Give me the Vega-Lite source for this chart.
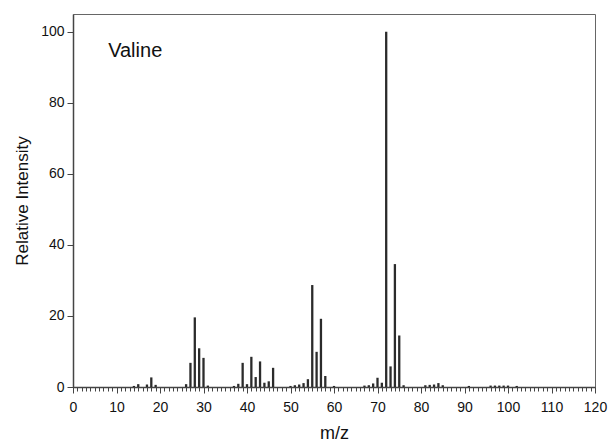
{
  "$schema": "https://vega.github.io/schema/vega-lite/v6.json",
  "width": 522,
  "height": 373,
  "autosize": "none",
  "padding": {"left": 73, "top": 14, "right": 13, "bottom": 55},
  "background": "white",
  "config": {
    "view": {"stroke": "#666", "strokeWidth": 1},
    "font": "Liberation Sans"
  },
  "resolve": {"axis": {"x": "independent"}},
  "layer": [
    {
      "data": {"values": [
        {"mz": 14, "intensity": 0.3}, {"mz": 15, "intensity": 0.8}, {"mz": 17, "intensity": 0.7}, {"mz": 18, "intensity": 2.7}, {"mz": 19, "intensity": 0.6},
        {"mz": 26, "intensity": 0.8}, {"mz": 27, "intensity": 6.8}, {"mz": 28, "intensity": 19.6}, {"mz": 29, "intensity": 10.9}, {"mz": 30, "intensity": 8.2}, {"mz": 31, "intensity": 0.4},
        {"mz": 37, "intensity": 0.3}, {"mz": 38, "intensity": 0.9}, {"mz": 39, "intensity": 6.8}, {"mz": 40, "intensity": 0.8}, {"mz": 41, "intensity": 8.5}, {"mz": 42, "intensity": 2.8}, {"mz": 43, "intensity": 7.2}, {"mz": 44, "intensity": 1.2}, {"mz": 45, "intensity": 1.6}, {"mz": 46, "intensity": 5.4},
        {"mz": 50, "intensity": 0.3}, {"mz": 51, "intensity": 0.5}, {"mz": 52, "intensity": 0.7}, {"mz": 53, "intensity": 1.1}, {"mz": 54, "intensity": 2.2}, {"mz": 55, "intensity": 28.7}, {"mz": 56, "intensity": 9.9}, {"mz": 57, "intensity": 19.2}, {"mz": 58, "intensity": 3.1}, {"mz": 60, "intensity": 0.3},
        {"mz": 67, "intensity": 0.4}, {"mz": 68, "intensity": 0.5}, {"mz": 69, "intensity": 1.0}, {"mz": 70, "intensity": 2.6}, {"mz": 71, "intensity": 1.2}, {"mz": 72, "intensity": 100}, {"mz": 73, "intensity": 5.8}, {"mz": 74, "intensity": 34.6}, {"mz": 75, "intensity": 14.5}, {"mz": 76, "intensity": 0.5},
        {"mz": 81, "intensity": 0.5}, {"mz": 82, "intensity": 0.6}, {"mz": 83, "intensity": 0.7}, {"mz": 84, "intensity": 1.1}, {"mz": 85, "intensity": 0.5},
        {"mz": 91, "intensity": 0.3}, {"mz": 96, "intensity": 0.4}, {"mz": 97, "intensity": 0.4}, {"mz": 98, "intensity": 0.4}, {"mz": 99, "intensity": 0.4}, {"mz": 100, "intensity": 0.4}, {"mz": 102, "intensity": 0.3}
      ]},
      "mark": {"type": "rule", "strokeWidth": 2.3, "color": "#2b2b2b"},
      "encoding": {
        "x": {
          "field": "mz", "type": "quantitative",
          "scale": {"domain": [0, 120], "nice": false, "zero": false},
          "axis": {
            "orient": "bottom",
            "title": "m/z",
            "titleFontSize": 18, "titleFontWeight": "normal", "titleColor": "#111", "titlePadding": 10,
            "values": [0, 10, 20, 30, 40, 50, 60, 70, 80, 90, 100, 110, 120],
            "labelFontSize": 14, "labelColor": "#111", "labelPadding": 7, "labelOverlap": false, "labelFlush": false,
            "tickSize": 6, "tickColor": "#444", "tickWidth": 1,
            "domainColor": "#444", "domainWidth": 1.5,
            "grid": false
          }
        },
        "y": {
          "field": "intensity", "type": "quantitative",
          "scale": {"domain": [0, 105], "nice": false},
          "axis": {
            "title": "Relative Intensity",
            "titleFontSize": 17, "titleFontWeight": "normal", "titleColor": "#111", "titlePadding": 9,
            "values": [0, 20, 40, 60, 80, 100],
            "labelFontSize": 14, "labelColor": "#111", "labelPadding": 3,
            "tickSize": 6, "tickColor": "#444",
            "domainColor": "#444", "domainWidth": 1.5,
            "grid": false
          }
        },
        "y2": {"datum": 0}
      }
    },
    {
      "data": {"values": [{"label": "Valine"}]},
      "mark": {"type": "text", "fontSize": 20, "color": "#111", "align": "center", "baseline": "middle"},
      "encoding": {
        "x": {
          "datum": 14.3, "type": "quantitative",
          "axis": {
            "orient": "bottom",
            "title": null,
            "values": [0,1,2,3,4,5,6,7,8,9,10,11,12,13,14,15,16,17,18,19,20,21,22,23,24,25,26,27,28,29,30,31,32,33,34,35,36,37,38,39,40,41,42,43,44,45,46,47,48,49,50,51,52,53,54,55,56,57,58,59,60,61,62,63,64,65,66,67,68,69,70,71,72,73,74,75,76,77,78,79,80,81,82,83,84,85,86,87,88,89,90,91,92,93,94,95,96,97,98,99,100,101,102,103,104,105,106,107,108,109,110,111,112,113,114,115,116,117,118,119,120],
            "labels": false,
            "tickSize": 4, "tickColor": "#444", "tickWidth": 1,
            "domain": false,
            "grid": false
          }
        },
        "y": {"datum": 94.5, "type": "quantitative"},
        "text": {"field": "label"}
      }
    }
  ]
}
